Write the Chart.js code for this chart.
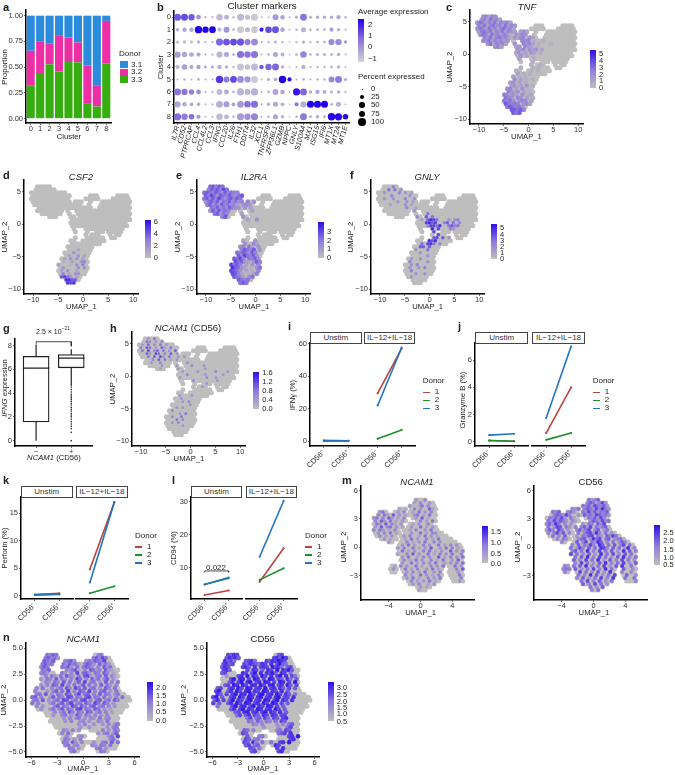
<!DOCTYPE html>
<html>
<head>
<meta charset="utf-8">
<script src="https://cdn.jsdelivr.net/npm/chart.js@4"></script>
<style>
  html, body { margin: 0; padding: 0; background: #fff; }
  #page { position: relative; width: 675px; height: 775px; overflow: hidden; font-family: "Liberation Sans", Arial, sans-serif; color: #222; }
  canvas { position: absolute; }
  .t { position: absolute; white-space: nowrap; line-height: 1; }
  .t sup { font-size: 70%; line-height: 0; }
  .strip { position: absolute; box-sizing: border-box; border: 1px solid #444; background: #fff; font-size: 8px; text-align: center; line-height: 9px; color: #333; }
</style>
</head>
<body>
<div id="page"></div>
<script>
// panel a
const clusters = ['0','1','2','3','4','5','6','7','8'];
const donor31 = [.341,.254,.273,.196,.212,.26,.486,.675,.051];
const donor32 = [.334,.312,.2,.347,.238,.193,.363,.206,.415];
const donor33 = [.325,.434,.527,.457,.55,.547,.151,.119,.534];

// panel b
const genes = ['IL7R','CD52','PTPRCAP','CCL4','CCL4L2','CCL3','IFNG','CCL20','IL26','FTH1','DDIT4','IL32','XCL1','TNFRSF9','ZFP36L1','GZMB','NPPC','GNLY','S100A4','MX1','ISG15','IFI6','MT1X','MT2A','MT1E'];
const pct = [
  [90,85,70,35,4,4,70,35,5,85,40,90,3,3,60,30,2,12,85,10,12,12,12,25,5],
  [15,30,30,100,70,80,25,60,8,85,40,80,25,75,85,30,2,5,40,5,8,8,25,15,3],
  [12,15,10,15,3,3,90,85,85,90,65,85,3,5,10,5,1,5,12,3,8,8,65,70,15],
  [70,50,35,25,4,4,65,40,8,90,75,90,3,5,40,20,1,8,75,6,10,10,8,15,3],
  [25,50,20,30,8,10,30,15,5,85,50,85,30,70,85,15,1,3,30,3,4,4,8,15,2],
  [3,5,3,8,3,3,100,60,80,80,65,90,2,12,15,100,25,3,8,3,6,6,60,85,10],
  [85,65,50,35,3,3,60,35,6,90,60,90,3,8,60,30,1,90,85,15,25,20,10,15,3],
  [65,30,18,15,3,3,85,60,20,85,75,90,3,15,40,20,1,25,70,90,90,90,8,40,2],
  [95,70,50,25,3,3,75,35,6,90,70,90,3,5,40,15,1,5,85,8,15,8,100,95,50]
];
const avg = [
  [1,1.2,1,0,-.5,-.5,-.7,-.5,-.8,-.7,-.8,-1,-.7,-.7,-.1,-.3,-.5,-.5,.6,-.5,-.3,-.3,-.3,-.3,-.5],
  [-.5,-.4,-.4,2.3,2.3,2.3,-.6,0,-.6,-1,-.7,-1,1.9,1.2,1.1,-.3,-.5,-.5,-.5,-.5,-.5,-.5,-.2,-.5,-.5],
  [-.7,-.7,-.7,-.7,-.5,-.5,.8,1.1,1.2,1.1,.4,.2,-.5,-.5,-.6,-.5,-.5,-.5,-.5,-.5,-.5,-.5,.2,.2,-.1],
  [-.2,-.3,-.3,-.3,-.5,-.5,-.6,-.3,-.5,.7,.6,.6,-.5,-.5,-.3,-.5,-.5,-.5,.3,-.5,-.5,-.5,-.5,-.5,-.5],
  [-.6,-.2,-.3,-.2,-.3,-.3,-.6,-.5,-.5,-.9,-.8,-.7,1,.8,.8,-.5,-.5,-.5,-.6,-.5,-.5,-.5,-.5,-.5,-.5],
  [-.5,-.5,-.5,-.5,-.5,-.5,1.5,.5,1.2,.2,0,-1,-.5,-.5,-.4,2.3,2.2,-.5,-.5,-.5,-.5,-.5,.2,.5,-.3],
  [.6,.6,.4,.1,-.5,-.5,-.7,-.4,-.5,-.6,-.6,-.5,-.5,-.5,-.3,-.3,-.5,2,.8,-.4,-.3,-.3,-.5,-.5,-.5],
  [-.3,-.4,-.4,-.4,-.5,-.5,-.5,-.1,-.2,-.1,.7,.7,-.5,-.5,-.4,-.5,-.5,.5,-.5,2.3,2.3,2.3,-.5,-.5,-.5],
  [.7,.5,.7,-.1,-.5,-.5,-.7,-.5,-.5,-.1,.1,.3,-.5,-.5,-.3,-.5,-.5,-.5,.5,-.5,-.4,-.5,2.3,2.2,2.2]
];

// panel g, [q1, median, q3, whisker low, whisker high]
const boxNeg = [1.58,6.1,7.1,0,8.1];
const boxPos = [6.13,6.95,7.24,4.6,7.7];
const outliersPos = [0,.7,1,1.2,1.4,1.6,1.8,2,2.15,2.3,2.5,2.65,2.8,3,3.15,3.3,3.45,3.6,3.75,3.9,4.1,4.3,4.5];

// panels i j k l, [CD56-, CD56+] per donor
const ifn = { un1:[.4,.3], un2:[.3,.3], un3:[.4,.3], st1:[29.5,57], st2:[1.5,7], st3:[22,57.5] };
const gzmb = { un1:[.1,.05], un2:[.1,.05], un3:[.5,.6], st1:[.65,4], st2:[.15,.65], st3:[1.75,7] };
const prf = { un1:[.2,.45], un2:[.15,.25], un3:[.15,.3], st1:[4.8,17], st2:[.45,1.7], st3:[2.4,17] };
const cd94 = { un1:[1.8,3.2], un2:[5,6.9], un3:[5,7.1], st1:[5.8,16], st2:[6.4,9.9], st3:[13.4,30.3] };

// UMAP outlines, one list of [firstCol, lastCol] runs per row of cells
const mainRuns = [[[2,6]],[[1,7]],[[0,11]],[[0,12],[19,21],[28,31]],[[0,12],[18,22],[27,32]],[[0,12],[14,16],[19,19],[23,32]],[[1,16],[19,19],[23,32]],[[2,19],[22,32]],[[2,10],[12,12],[15,32]],[[3,9],[12,12],[15,32]],[[6,8],[13,14],[16,32]],[[13,32]],[[13,31]],[[13,31]],[[14,14],[18,30]],[[14,14],[18,18],[21,23],[25,29]],[[18,18],[20,22],[26,26],[28,29]],[[14,14],[18,23],[26,27]],[[13,14],[17,24]],[[13,19],[20,22]],[[12,20]],[[12,19]],[[11,19]],[[11,18]],[[10,18]],[[10,18]],[[9,18]],[[9,18]],[[9,18]],[[9,17]],[[10,16]],[[11,15]],[[12,14]]];
const mRuns = [[[14,17]],[[13,19]],[[12,20]],[[8,10],[12,20]],[[2,4],[7,10],[12,20]],[[1,11],[12,20]],[[0,10],[13,20]],[[0,10],[14,20]],[[0,9],[12,19]],[[0,9],[11,20]],[[0,8],[10,21]],[[0,8],[10,22]],[[1,7],[9,24]],[[2,7],[9,25]],[[5,6],[9,27]],[[8,28]],[[8,29]],[[8,29]],[[8,29]],[[9,29]],[[9,29]],[[9,23],[24,29]],[[6,7],[9,23],[25,29]],[[5,7],[9,22],[25,29]],[[6,7],[10,22],[25,29]],[[10,22],[25,29]],[[10,22],[26,29]],[[11,21],[26,29]],[[12,20]],[[14,18]],[[15,17]]];
const nRuns = [[[5,8],[21,23]],[[4,8],[20,25]],[[4,7],[11,14],[18,26]],[[3,6],[10,26]],[[3,5],[10,27]],[[3,5],[11,28]],[[3,7],[10,28]],[[3,28]],[[3,28]],[[3,28]],[[3,28]],[[1,28]],[[1,29]],[[1,30]],[[0,32]],[[0,32]],[[0,31]],[[1,31]],[[2,30]],[[4,29]],[[5,28]],[[6,28]],[[6,28]],[[7,28]],[[8,28]],[[9,15],[19,28]],[[9,13],[22,28]],[[10,12],[15,17],[22,28]],[[10,13],[14,16],[22,28]],[[10,18],[19,28]],[[11,17],[20,28]],[[12,16],[21,27]],[[13,15],[22,25]]];

// expression per cell, 0-9, a blank is no expression (grey)
const tnfCells = [
"  34243"," 3425342","354243524342","4352453425243","3542534245342","2453524352432 232"," 35425342431 3243","  43524534213234132","  435243423  32434 1  1","   3524342  3 24342 1   1","      342    23 432 1","             3241323 2","             2312 32 1","             13 2 1","              2    1","                  1","                  1  1","              1   1 1","             1    1 1","             2 1 1","            2 1 1","            3 2 1 1","           23 2 1","           2312 3 1","          34 2 3 1 2","          4323 2 1 2","         44232 3 12","         543 43 2 13","         5453 343 23","         65454 342","          565453 4","           66564","            656"];
const csf2Cells = [
"","","","","","","","","","","","","","","","","","","","","","               2","              3","            2  3 2","           2 3 3 2","          1  2  34","         2   1 3 4","          3    3 3","          2 3  2","          4 2 33","          6753 2","           8866","            878"];
const il2raCells = [
"  56465"," 4656475","565465364544","6475365464356","5646475356465","3564635463534 4 3"," 46353645342 343","  5463536433 3 2","  3646454  4  3 2","   56354    2 3","      46     3","              2  3","","","","","","","             2   3","             3  42","            34 52 3","            46546 3","           5465364","           6475463","          6574 5463","          75632 364","         7564 2 3 4","         86532 1 35","         7653 2 1 4","         7642 1 24","          6542 35","           6545","            565"];
const gnlyCells = [
"     4","   5 5 3","  3    4 3 2","    4     3","  3  3   4  3","      3  3 2","    2    3 2","         4  2","            3 3","             33 5","             4 56 5","              2 6875   3 34","                7867  46 5 4","                47758  5645","                 68 7   43","                  7 8","                 6 57","                  67 6 3","               7 868","              5 785 4","              66 6","            3   5","              3","                3","           3  3","          4     3","           3 4","          3  3 4","           4","            3  3","           3"];
const ncam1Cells = [
"   3 5","  54 3 4"," 3 6 4 5 3","4 65 3 62 5"," 5 7 46 5 3 6","  63 75 4 6 3","   5 6 73 5  3 3","    4 6 5 2 3","    3  4     4  3","       3    3    4   3","       2     3 4      3","              3    3     4   3","                4     3     3","             3        4  3","                  4       3","                      3","                     3","                 3","                3","             3   3","              3","              3 4","                 3","            3 3","           4","             3 5","           4  5","            5 4","           3 4","              3"];
const mNcamCells = [
"              3  4","             2 4  3","            3  25 4","        2 1  4 3  62","  35    3 4  2 5 3 4"," 4 52 6 3 2  35 2 5","35 4 63 2 4   3 6 2","4 63 5 2 3     4 2 5"," 53 6 42 3   2 3  4","3 6 45 3 2  3  5 2 3","4 53 2 4    2 4  3 5"," 3 4 5 2    3  5 2 43","  4 2 3   3 4  2 5 3 2","   3 2    2 5 3  4 2 5","     3     4 2 3 5  4 3","         3 5 2  4 3  5 2 4 3","        3 4  5 2 3 6  3 5 4 2","         5 2 3  4 5 2 3  6 3 4","        2  4 6 3  5 2 4 3 5  4","         3 5  2 4 3  6 2 4 3 5","          4 2 5 3  4 2 5  3 6 4","         3  5 2 4 3 5  2 3 4 5","       2 4 3  5 2  4 3 5   5 3 4","      3   5 2 4  3 5 2     4 6 2","           3 4 2 5  3 4     3 5 4","          4 2  5 3 2 4      5 2 3","           3 5 2  4 3 5      4 3","            4 2 3 5 2       3 5","             3 4  2 3","               3 2","               2"];
const mCd56Cells = [
"              5346","             4652473","            546375463","        435 465374853","  546  453  547463546","  465374  3 645376453"," 546473 52 3  546374","5374653 42    4653745","46385 4 3   3 54 637","5 476 53 4 4637 5346","364 75 3  46357 46 35","4 5736 4  5 467384 5 3","  5 4 6 3 3 5467 53 6475","   4 53   456 3857 46 345","     4    6 47 5386 4 5 364","        4 6 5374 86 5 6 47 5 3","        5 374 6 5 874 6 5 38 4 7","        46 5 8 4 7 5 6 3 8 6 4 5","        7 5 4 6 3 8 5 7 4 6 5 4 7","         5 6 8 4 7 5 3 6 8 4 5 6","         6 4 7 5 8 3 6 4 7 5 3 8 4","         4 7 5 3 6 8 4 5 7 3 6 4 5","      43 5 6 8 4 5 7 3 6 8  5 3 6 4","     454 6 3 5 7 4 8 5 3 6  3 5 4 6","      4  3 7 5 4 6 3 8 5 4  4 6 3 5","          5 4 8 6 3 5 7 4 6  3 5 4 6","          4 6 3 5 7 4 8 3 5  5 3 4 6","           5 7 4 6 3 5 4 7   4 6 3 5","            6 4 7 5 3 8 4","              5 3 6 4 5","               4 5 3"];
const nNcamCells = [
"     5465             456","    56453           56475","    6546   4563   3546547","   56453  536452 4653 6353","   465    5463 5 4653 4 635","   546     43562 4 6534 632","   453    53 4 7 563 54 64 2","    4 53 5 643 5 673 45 6 42","   3 54 6 53 4 75 4 635 46 3","    43 54 6 5 36 7 45 3 6 4 5","   3 4 65 7 4 5 36 5 4 6 53 4","54 5  4 35 64 75 6 45 3 64 5","54   3 46 5 7 4 65 7 4 56 3 5"," 45 6 3 54 65 47 56 4 6 54 35","56 4  36 54 76 54 67 54 5 3 4 5","45 6 3 45 76 45 67 4 56 45 64","5 4   35 46 57 45 64 75 64 3"," 4 3   46 54 75 64 56 45 4 3","   3  35 46 54 67 54 65 3 2","       4 35 64 54 65 35 4 2","       3  45 3 64 53 4 3 4","          3 4 35 3 43 5 34","           3 4  34 3  43 5","               3 4  3  3 4 35","                3  3     3 45","          43 4 3       4 3 54","          4 5         3 45 36","           4   34        35 7","           54 3 4         45 3","          54 63 4   3  45 6 5","           45 34    43 54 5","            54 3     45 3","             45        54"];
const nCd56Cells = [
"     7687             678","    68786           78697","    8675   6785   7687987","   78675  76876587 8 7965","   687    786 8 787 9785 67","   786     7 87 6 87 9 8796","   67     87 69 8 8796 87 5","    3   78 9 87 97 8 79 8 75","      79 88 7 98 7 98 76 85 6","     68 79 89 78 98 7 98 7 9","    67 98 97 88 97 89 78 96 7"," 67  78 97 98 78 9 78 86 7 6"," 79  68 97 89 87 98 87 8 6"," 86 7 79 88 97 89 78 97 86 5","79 6  78 97 98 89 78 89 77 8","68 7 69 87 89 78 98 79 87 8","7 6  68 97 98 78 97 98 7 6"," 5    79 88 79 87 98 7 6","      68 79 87 98 78 97 6","       67 89 78 79 87 8 6","        57 68 76 87 87 77","           57 56 75 76 78","            54 64 54 5 76","             43 4    3 4 56","                 3    3  57","          65 4       45 76","          76          567 8","           6   45        78 9","           76 45          78 6","          76 84 5  5  78 9","           67 56  78 87","            76 5    87 8","             67       78"];

// panel colours
const ink = '#000', tickCol = '#333';
const redL = '#B9443F', greenL = '#1C8E2B', blueL = '#2274C0';
const rampStops = [[190,190,190],[142,120,220],[42,15,234]];
const dotStops = [[211,211,211],[142,120,220],[32,0,238]];

function ramp(t, stops) {
  t = Math.max(0, Math.min(1, t));
  const a = t < .5 ? stops[0] : stops[1], b = t < .5 ? stops[1] : stops[2], f = t < .5 ? t * 2 : t * 2 - 1;
  return 'rgb(' + a.map((v, i) => Math.round(v + (b[i] - v) * f)).join(',') + ')';
}

const page = document.getElementById('page');
function txt(html, x, y, o) {
  o = o || {};
  const d = document.createElement('div');
  d.className = 't';
  d.innerHTML = html;
  d.style.left = x + 'px';
  d.style.top = y + 'px';
  d.style.fontSize = (o.size || 8) + 'px';
  if (o.bold) d.style.fontWeight = 'bold';
  if (o.italic) d.style.fontStyle = 'italic';
  if (o.color) d.style.color = o.color;
  const tx = o.align === 'l' ? '0' : '-50%';
  d.style.transform = 'translate(' + tx + ',-50%)' + (o.rot ? ' rotate(' + o.rot + 'deg)' : '');
  page.appendChild(d);
}
function block(x, y, w, h, css) {
  const d = document.createElement('div');
  d.style.cssText = 'position:absolute;left:' + x + 'px;top:' + y + 'px;width:' + w + 'px;height:' + h + 'px;' + css;
  page.appendChild(d);
}
function colorbar(x, top, bottom, labels) {
  block(x, top, 6, bottom - top, 'background:linear-gradient(to bottom,rgb(42,15,234),rgb(142,120,220),rgb(190,190,190))');
  labels.forEach(l => txt(l[0], x + 9, l[1], { align: 'l', size: 7.5 }));
}
function donorLegend(x, y) {
  txt('Donor', x, y, { align: 'l', size: 8 });
  [[redL, '1'], [greenL, '2'], [blueL, '3']].forEach((d, i) => {
    block(x, y + 10.5 + i * 8, 7, 1.5, 'background:' + d[0]);
    txt(d[1], x + 12, y + 11 + i * 8, { align: 'l', size: 8 });
  });
}

const ML = 42, MT = 8, MR = 20, MB = 52, AT = 7.7, TT = 7.5;
function axis(min, max, ticks, fmt, extra) {
  return Object.assign({
    type: 'linear', min: min, max: max, offset: false,
    afterBuildTicks: s => { s.ticks = ticks.map(v => ({ value: v })); },
    border: { display: true, color: ink, width: 1.5 },
    grid: { display: true, offset: false, drawOnChartArea: false, drawTicks: true, tickLength: 2, tickWidth: .7, color: tickCol },
    ticks: { autoSkip: false, maxRotation: 0, minRotation: 0, padding: 1, color: tickCol, font: { family: 'Liberation Sans', size: TT }, callback: fmt || (v => String(v).replace('-', '\u2212')) }
  }, extra || {});
}
function xAxis(min, max, ticks, fmt) {
  const a = axis(min, max, ticks, fmt);
  a.ticks.padding = -1;
  return a;
}
function panel(box, type, datasets, x, y, labels) {
  const c = document.createElement('canvas');
  const l = Math.round(box[0]), t = Math.round(box[1]), r = Math.round(box[2]), b = Math.round(box[3]);
  c.width = r - l + ML + MR;
  c.height = b - t + MT + MB;
  c.style.left = (l - ML) + 'px';
  c.style.top = (t - MT) + 'px';
  page.appendChild(c);
  x.afterFit = s => { s.height = MB; };
  const hideY = y.display === false;
  if (!hideY) y.afterFit = s => { s.width = ML; };
  return new Chart(c, {
    type: type,
    data: { labels: labels, datasets: datasets },
    options: {
      responsive: false, animation: false, events: [],
      layout: { padding: { left: hideY ? ML : 0, top: MT, right: MR, bottom: 0 } },
      plugins: { legend: { display: false }, tooltip: { enabled: false } },
      scales: { x: x, y: y }
    }
  });
}

// grey cells underneath, expressed cells on top; odd rows sit half a cell over
function cellPoints(runs, cells, x0, dx, y0, dy) {
  const base = [], hot = [], cols = [];
  runs.forEach((row, r) => {
    const line = cells[r] || '';
    row.forEach(run => {
      for (let c = run[0]; c <= run[1]; c++) {
        const d = parseInt(line[c], 10);
        const p = { x: x0 + (c + (r % 2) * .5 - .25) * dx, y: y0 + r * dy };
        base.push(p);
        if (d > 0) { hot.push(p); cols.push(ramp(d / 9.5, rampStops)); }
      }
    });
  });
  return { base, hot, cols };
}
function umap(box, xr, yr, xt, yt, runs, cells, g, fmtY, hotR) {
  const p = cellPoints(runs, cells, g[0], g[1], g[2], g[3]);
  panel(box, 'scatter', [
    { data: p.hot, pointRadius: hotR || 2.2, pointBorderWidth: 0, pointBackgroundColor: p.cols, showLine: false },
    { data: p.base, pointRadius: 2.5, pointBorderWidth: 0, pointBackgroundColor: 'rgb(190,190,190)', showLine: false }
  ], xAxis(xr[0], xr[1], xt), axis(yr[0], yr[1], yt, fmtY));
}

/* ---- panel a ---- */
txt('a', 3, 7, { size: 11, bold: true, align: 'l' });
const catGrid = { display: true, offset: false, drawOnChartArea: false, tickLength: 2, tickWidth: .7, color: tickCol };
const catBorder = { display: true, color: ink, width: 1.5 };
panel([26, 10, 111, 123], 'bar', [
  { label: '3.3', data: donor33, backgroundColor: '#36AE10' },
  { label: '3.2', data: donor32, backgroundColor: '#EC2FA4' },
  { label: '3.1', data: donor31, backgroundColor: '#2B8CDE' }
].map(d => Object.assign(d, { barPercentage: .86, categoryPercentage: 1, stack: 's' })),
  { type: 'category', stacked: true, offset: true, border: catBorder, grid: catGrid,
    ticks: { maxRotation: 0, padding: -1, color: tickCol, font: { family: 'Liberation Sans', size: TT } } },
  axis(-.042, 1.055, [0, .25, .5, .75, 1], v => v.toFixed(2), { stacked: true }),
  clusters);
txt('Cluster', 69, 137, { size: AT });
txt('Proportion', 4.5, 67, { size: AT, rot: -90 });
txt('Donor', 119, 54, { size: 8, align: 'l' });
[['#2B8CDE', '3.1'], ['#EC2FA4', '3.2'], ['#36AE10', '3.3']].forEach((d, i) => {
  block(119.5, 61 + i * 7.6, 8, 7, 'background:' + d[0]);
  txt(d[1], 131, 64.5 + i * 7.6, { size: 8, align: 'l' });
});

/* ---- panel b ---- */
txt('b', 157, 7, { size: 11, bold: true, align: 'l' });
const dotR = p => .5 + .32 * Math.sqrt(p);
const dotPts = [], dotRad = [], dotCol = [];
clusters.forEach((cl, r) => genes.forEach((g, c) => {
  dotPts.push({ x: g, y: cl });
  dotRad.push(dotR(pct[r][c]));
  dotCol.push(ramp((avg[r][c] + 1.2) / 3.5, dotStops));
}));
panel([174, 11, 349, 123], 'scatter', [{ data: dotPts, pointRadius: dotRad, pointBorderWidth: 0, pointBackgroundColor: dotCol, showLine: false }],
  { type: 'category', labels: genes, offset: true, border: catBorder, grid: catGrid,
    ticks: { autoSkip: false, minRotation: 75, maxRotation: 75, padding: 0, color: '#222', font: { family: 'Liberation Sans', size: 7, style: 'italic' } } },
  { type: 'category', labels: clusters, offset: true, border: catBorder, grid: catGrid,
    ticks: { autoSkip: false, maxRotation: 0, padding: 1, color: tickCol, font: { family: 'Liberation Sans', size: 7.5 } } });
txt('Cluster markers', 262, 6, { size: 9.8 });
txt('Cluster', 161, 67, { size: AT, rot: -90 });
txt('Average expression', 358, 12, { size: 8, align: 'l' });
block(358, 19, 6, 43, 'background:linear-gradient(to bottom,rgb(32,0,238),rgb(142,120,220),rgb(211,211,211))');
[['2', 25], ['1', 36], ['0', 47], ['\u22121', 59]].forEach(l => txt(l[0], 368, l[1], { size: 7.8, align: 'l' }));
txt('Percent expressed', 358, 77, { size: 8, align: 'l' });
[[0, 89], [25, 97], [50, 105], [75, 114], [100, 122]].forEach(l => {
  const r = dotR(l[0]);
  block(362 - r, l[1] - r, 2 * r, 2 * r, 'background:#000;border-radius:50%');
  txt(String(l[0]), 371, l[1], { size: 7.8, align: 'l' });
});

/* ---- big UMAP panels c d e f h ---- */
const mainX = [-11.8, 10.95], mainY = [-10.72, 6.84], mainXT = [-10, -5, 0, 5, 10], mainYT = [-10, -5, 0, 5];
const mainGrid = [-10.16, .6036, 5.81, -.4622];
function mainPanel(l, t, cells, hotR) {
  umap([l, t, l + 113.2, t + 114], mainX, mainY, mainXT, mainYT, mainRuns, cells, mainGrid, undefined, hotR);
  txt('UMAP_1', l + 57, t + 127, { size: AT });
  txt('UMAP_2', l - 19.5, t + 57, { size: AT, rot: -90 });
}
txt('c', 446, 7, { size: 11, bold: true, align: 'l' });
mainPanel(469.5, 10, tnfCells);
txt('TNF', 527, 7, { size: 9.5, italic: true });
colorbar(590, 50, 88, [['5', 54], ['4', 61], ['3', 68], ['2', 75], ['1', 81], ['0', 88]]);

txt('d', 3, 175, { size: 11, bold: true, align: 'l' });
mainPanel(24.3, 180, csf2Cells, 1.8);
txt('CSF2', 81, 177, { size: 9.5, italic: true });
colorbar(144.7, 220, 258, [['6', 222], ['4', 233.5], ['2', 245.5], ['0', 257.5]]);

txt('e', 176, 175, { size: 11, bold: true, align: 'l' });
mainPanel(197, 180, il2raCells);
txt('IL2RA', 254, 177, { size: 9.5, italic: true });
colorbar(318, 222, 258, [['3', 232], ['2', 240.5], ['1', 249], ['0', 258]]);

txt('f', 350, 175, { size: 11, bold: true, align: 'l' });
mainPanel(370.7, 180, gnlyCells, 1.7);
txt('GNLY', 427, 177, { size: 9.5, italic: true });
colorbar(491, 224, 259, [['5', 228], ['4', 234.5], ['3', 240.5], ['2', 247], ['1', 253], ['0', 259]]);

txt('h', 110, 328, { size: 11, bold: true, align: 'l' });
mainPanel(132, 331.7, ncam1Cells, 1.4);
txt('<i>NCAM1</i> (CD56)', 188, 328, { size: 9.5 });
colorbar(253.3, 371.7, 409.3, [['1.6', 372.7], ['1.2', 381.7], ['0.8', 391], ['0.4', 400], ['0.0', 409.3]]);

/* ---- panel g ---- */
txt('g', 3, 328, { size: 11, bold: true, align: 'l' });
const boxDs = (x, b) => [
  { type: 'scatter', data: [{ x: x, y: b[1] }], pointStyle: 'line', pointRadius: 13.2, pointBorderWidth: 1.3, pointBorderColor: '#222', showLine: false },
  { type: 'bar', data: [{ x: x, y: [b[0], b[2]] }], barThickness: 26, grouped: false, borderSkipped: false, borderWidth: 1.3, borderColor: '#222', backgroundColor: '#fff' },
  { type: 'scatter', data: [{ x: x, y: b[3] }, { x: x, y: b[0] }], showLine: true, borderColor: '#222', borderWidth: 1.2, pointRadius: 0 },
  { type: 'scatter', data: [{ x: x, y: b[2] }, { x: x, y: b[4] }], showLine: true, borderColor: '#222', borderWidth: 1.2, pointRadius: 0 }
];
panel([15, 331.7, 91.7, 445.7], 'bar', [
  ...boxDs(1, boxNeg), ...boxDs(2, boxPos),
  { type: 'scatter', data: outliersPos.map(v => ({ x: 2, y: v })), pointRadius: .8, pointBackgroundColor: '#222', pointBorderWidth: 0, showLine: false },
  { type: 'scatter', data: [{ x: 1, y: 8.15 }, { x: 1, y: 8.33 }, { x: 2, y: 8.33 }, { x: 2, y: 7.95 }], showLine: true, borderColor: '#222', borderWidth: .8, pointRadius: 0 }
], xAxis(.4, 2.59, [1, 2], v => (v === 1 ? '\u2212' : '+')), axis(-.45, 8.6, [0, 2, 4, 6, 8]));
txt('2.5 \u00d7 10<sup>\u221221</sup>', 53, 331, { size: 7 });
txt('<i>IFNG</i> expression', 4.5, 388, { size: AT, rot: -90 });
txt('<i>NCAM1</i> (CD56)', 54, 458, { size: AT });

/* ---- facet panels i j k l ---- */
const cdLabels = v => (v === 1 ? 'CD56\u207b' : 'CD56\u207a');
function lineDs(vals, col) {
  return { data: vals.map((v, i) => ({ x: i + 1, y: v })), showLine: true, borderColor: col, borderWidth: 1.6, pointRadius: 1.1, pointBackgroundColor: col, pointBorderWidth: 0 };
}
function facet(bL, bR, top, bottom, yr, yt, d, extraL) {
  const fx = () => axis(.43, 2.56, [1, 2], cdLabels, { ticks: { autoSkip: false, minRotation: 45, maxRotation: 45, padding: 0, color: tickCol, font: { family: 'Liberation Sans', size: 7.5 }, callback: cdLabels } });
  panel([bL[0], top, bL[1], bottom], 'scatter', [lineDs(d.un3, blueL), lineDs(d.un2, greenL), lineDs(d.un1, redL)].concat(extraL || []), fx(), axis(yr[0], yr[1], yt));
  panel([bR[0], top, bR[1], bottom], 'scatter', [lineDs(d.st3, blueL), lineDs(d.st2, greenL), lineDs(d.st1, redL)], fx(), Object.assign(axis(yr[0], yr[1], yt), { display: false }));
  [[bL, 'Unstim'], [bR, 'IL\u221212+IL\u221218']].forEach(s => {
    const st = document.createElement('div');
    st.className = 'strip';
    st.textContent = s[1];
    st.style.cssText = 'left:' + s[0][0] + 'px;top:' + (top - 11) + 'px;width:' + (s[0][1] - s[0][0]) + 'px;height:11.5px;';
    page.appendChild(st);
  });
}
txt('i', 288, 326, { size: 11, bold: true, align: 'l' });
facet([310, 361.7], [364, 415.3], 343.3, 445.7, [-2.9, 60.4], [0, 20, 40, 60], ifn);
txt('IFN\u03b3 (%)', 292.7, 395, { size: AT, rot: -90 });
donorLegend(422.7, 381);

txt('j', 458, 326, { size: 11, bold: true, align: 'l' });
facet([475, 528.3], [531.7, 585.3], 343.3, 445.7, [-.3, 7.26], [0, 2, 4, 6], gzmb);
txt('Granzyme B (%)', 462.7, 400, { size: AT, rot: -90 });
donorLegend(592.7, 381);

txt('k', 3, 480, { size: 11, bold: true, align: 'l' });
facet([20.7, 72.7], [75.7, 128], 497.3, 599.3, [-.6, 17.95], [0, 5, 10, 15], prf);
txt('Perforin (%)', 4.5, 548, { size: AT, rot: -90 });
donorLegend(135, 535.7);

txt('l', 172, 480, { size: 11, bold: true, align: 'l' });
facet([190.7, 242.3], [245.7, 297], 497.3, 599.3, [.6, 31.5], [10, 20, 30], cd94,
  [{ data: [{ x: 1, y: 8.7 }, { x: 1, y: 9.1 }, { x: 2, y: 9.1 }, { x: 2, y: 8.7 }], showLine: true, borderColor: '#222', borderWidth: .8, pointRadius: 0 }]);
txt('0.022', 216, 568, { size: 8 });
txt('CD94 (%)', 174, 548, { size: AT, rot: -90 });
donorLegend(305, 535.7);

/* ---- panels m n ---- */
const mGrid = [-5.74, .377, 4.995, -.3168];
txt('m', 342, 480, { size: 11, bold: true, align: 'l' });
umap([361.3, 486, 474, 600], [-7.45, 6.7], [-5.565, 6.47], [-4, 0, 4], [-3, 0, 3, 6], mRuns, mNcamCells, mGrid, undefined, 1.8);
txt('NCAM1', 417, 482, { size: 9.5, italic: true });
txt('UMAP_1', 420.7, 613, { size: AT });
txt('UMAP_2', 344, 547, { size: AT, rot: -90 });
colorbar(481.7, 525.7, 563.3, [['1.5', 532], ['1.0', 542.7], ['0.5', 554], ['0.0', 564]]);
umap([534, 486, 647.3, 600], [-7.45, 6.7], [-5.565, 6.47], [-4, 0, 4], [-3, 0, 3, 6], mRuns, mCd56Cells, mGrid, undefined, 1.9);
txt('CD56', 590.7, 482, { size: 9.5 });
txt('UMAP_1', 594, 613, { size: AT });
txt('UMAP_2', 518, 547, { size: AT, rot: -90 });
colorbar(654.3, 525, 565, [['2.5', 532.7], ['2.0', 541], ['1.5', 549.5], ['1.0', 558], ['0.5', 565]]);

const nGrid = [-5.81, .349, 4.356, -.2904];
const nFmtY = v => v.toFixed(1).replace('-', '\u2212');
txt('n', 3, 637, { size: 11, bold: true, align: 'l' });
umap([26.3, 643, 139.3, 756.7], [-6.63, 6.51], [-5.49, 5.52], [-6, -3, 0, 3, 6], [-5, -2.5, 0, 2.5, 5], nRuns, nNcamCells, nGrid, nFmtY, 2.1);
txt('NCAM1', 83.3, 639.3, { size: 9.5, italic: true });
txt('UMAP_1', 83, 769, { size: AT });
txt('UMAP_2', 4.3, 700, { size: AT, rot: -90 });
colorbar(147, 682.3, 720.7, [['2.0', 687.7], ['1.5', 696], ['1.0', 704], ['0.5', 712], ['0.0', 720.7]]);
umap([206.7, 643, 319.3, 756.7], [-6.63, 6.51], [-5.49, 5.52], [-6, -3, 0, 3, 6], [-5, -2.5, 0, 2.5, 5], nRuns, nCd56Cells, nGrid, nFmtY, 2.2);
txt('CD56', 262.7, 639.3, { size: 9.5 });
txt('UMAP_1', 263, 769, { size: AT });
txt('UMAP_2', 184, 700, { size: AT, rot: -90 });
colorbar(327.7, 682, 720.7, [['3.0', 688], ['2.5', 695], ['2.0', 701.7], ['1.5', 708], ['1.0', 714], ['0.5', 721.5]]);
</script>
</body>
</html>
